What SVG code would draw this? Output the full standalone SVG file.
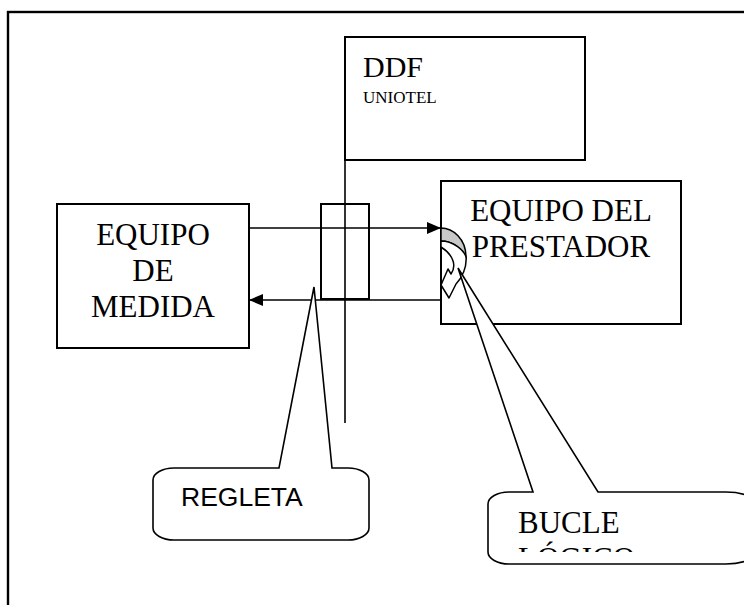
<svg xmlns="http://www.w3.org/2000/svg" width="744" height="605" viewBox="0 0 744 605">
  <style>
    .box { fill: #ffffff; stroke: #000000; stroke-width: 2; }
    .ln { fill: none; stroke: #000000; stroke-width: 1.6; }
    .serif { font-family: "Liberation Serif", "Times New Roman", serif; fill: #000000; }
    .sans { font-family: "Liberation Sans", Arial, sans-serif; fill: #000000; }
    .big { font-size: 31px; }
    .callout { fill: #ffffff; stroke: #000000; stroke-width: 1.6; }
  </style>
  <defs>
    <marker id="arr" markerWidth="14" markerHeight="12" refX="14" refY="6" orient="auto" markerUnits="userSpaceOnUse">
      <path d="M0,0 L14,6 L0,12 Z" fill="#000000"/>
    </marker>
    <clipPath id="bucleClip">
      <rect x="488" y="492" width="260" height="60"/>
    </clipPath>
  </defs>
  <rect width="744" height="605" fill="#ffffff"/>

  <g id="frame">
    <rect x="8" y="12" width="800" height="700" fill="none" stroke="#000000" stroke-width="2.4"/>
  </g>

  <g id="ddf">
    <rect class="box" x="345" y="37" width="240" height="123"/>
    <text class="serif" x="363" y="77" font-size="30">DDF</text>
    <text class="serif" x="363" y="103" font-size="17">UNIOTEL</text>
  </g>

  <g id="equipo-medida">
    <rect class="box" x="57" y="204" width="192" height="144"/>
    <text class="serif big" x="153" y="245" text-anchor="middle">EQUIPO</text>
    <text class="serif big" x="153" y="281" text-anchor="middle">DE</text>
    <text class="serif big" x="153" y="317" text-anchor="middle">MEDIDA</text>
  </g>

  <g id="equipo-prestador">
    <rect class="box" x="441" y="181" width="240" height="143"/>
    <text class="serif big" x="561" y="221" text-anchor="middle">EQUIPO DEL</text>
    <text class="serif big" x="561" y="257" text-anchor="middle">PRESTADOR</text>
  </g>

  <g id="regleta">
    <rect x="321" y="204" width="48" height="95" fill="none" stroke="#000000" stroke-width="2"/>
  </g>

  <g id="connectors">
    <line class="ln" x1="345" y1="160" x2="345" y2="423"/>
    <line class="ln" x1="249" y1="228" x2="441" y2="228" marker-end="url(#arr)"/>
    <line class="ln" x1="441" y1="300" x2="249" y2="300" marker-end="url(#arr)"/>
  </g>

  <g id="bucle-logico-symbol">
    <path d="M441,228 C453,228 466,239 466,257 C460,247 451,241 441,241 Z" fill="#c8c8c8" stroke="#000000" stroke-width="1.5"/>
    <path d="M441,241 C453,241 464,250 466,257 C467,267 462,278 456,284 L449,298 L441,285 L448,269 L451,274 C456,267 455,256 441,247 Z" fill="#ffffff" stroke="#000000" stroke-width="1.5" stroke-linejoin="round"/>
  </g>

  <g id="callout-regleta">
    <path class="callout" d="M174,468 L279,468 L314,287 L332,468 L348,468 A21,12 0 0 1 369,480 L369,528 A21,12 0 0 1 348,540 L174,540 A21,12 0 0 1 153,528 L153,480 A21,12 0 0 1 174,468 Z"/>
    <text class="sans" x="181" y="506" font-size="26.5">REGLETA</text>
  </g>

  <g id="callout-bucle">
    <path class="callout" d="M509,492 L533,492 L458,268 L598,492 L726,492 A30,12 0 0 1 756,504 L756,552 A30,12 0 0 1 726,564 L509,564 A21,12 0 0 1 488,552 L488,504 A21,12 0 0 1 509,492 Z"/>
    <g clip-path="url(#bucleClip)">
      <text class="serif big" x="518" y="533">BUCLE</text>
      <text class="serif big" x="518" y="569">LÓGICO</text>
    </g>
  </g>
</svg>
